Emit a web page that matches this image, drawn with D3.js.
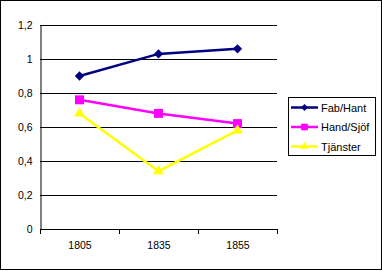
<!DOCTYPE html>
<html><head><meta charset="utf-8">
<script src="https://cdn.jsdelivr.net/npm/d3@7"></script>
<style>html,body{margin:0;padding:0;background:#fff;}svg{display:block;}</style>
</head><body>
<script>
const categories = ["1805", "1835", "1855"];
const seriesNames = ["Fab/Hant", "Hand/Sjöf", "Tjänster"];
const fabHant = [0.90, 1.03, 1.06];
const handSjof = [0.76, 0.68, 0.62];
const tjanster = [0.68, 0.34, 0.58];
const yTicks = [0, 0.2, 0.4, 0.6, 0.8, 1, 1.2];

const W = 382, H = 271;
const svg = d3.select("body").append("svg").attr("width", W).attr("height", H)
  .style("font-family", "'Liberation Sans', Arial, sans-serif");

svg.append("rect").attr("x", 0.5).attr("y", 0.5).attr("width", W - 1).attr("height", H - 2)
  .attr("fill", "#fff").attr("stroke", "#000");

const x = d3.scaleBand().domain(categories).range([40, 277]);
const y = d3.scaleLinear().domain([0, 1.2]).range([229, 25]);

// gridlines
svg.append("g").selectAll("line").data(yTicks.filter(d => d > 0)).join("line")
  .attr("x1", 40).attr("x2", 277)
  .attr("y1", d => Math.round(y(d)) + 0.5).attr("y2", d => Math.round(y(d)) + 0.5)
  .attr("stroke", "#000");

// y axis
const yAxis = svg.append("g").attr("transform", "translate(40.5,0.5)")
  .call(d3.axisLeft(y).tickValues(yTicks).tickSize(0).tickPadding(8)
    .tickFormat(d => String(d).replace(".", ",")));
yAxis.select(".domain").attr("stroke", "#000");
yAxis.selectAll("text").attr("font-size", 10.5).attr("fill", "#000")
  .attr("font-family", "'Liberation Sans', Arial, sans-serif");

// x axis
const xAxis = svg.append("g").attr("transform", "translate(0.5,229.5)")
  .call(d3.axisBottom(x).tickSize(0).tickPadding(12));
xAxis.select(".domain").attr("stroke", "#000").attr("d", "M40,0H277");
xAxis.selectAll("text").attr("font-size", 10.5).attr("fill", "#000")
  .attr("font-family", "'Liberation Sans', Arial, sans-serif");
const bounds = categories.map(c => x(c)).concat([x.range()[1]]);
svg.append("g").selectAll("line").data(bounds).join("line")
  .attr("x1", d => Math.round(d) + 0.5).attr("x2", d => Math.round(d) + 0.5)
  .attr("y1", 229).attr("y2", 234).attr("stroke", "#000");

const series = [
  { name: seriesNames[0], values: fabHant, color: "#000080", symbol: d3.symbolDiamond2, size: 55 },
  { name: seriesNames[1], values: handSjof, color: "#FF00FF", symbol: d3.symbolSquare, size: 81 },
  { name: seriesNames[2], values: tjanster, color: "#FFFF00", symbol: d3.symbolTriangle, size: 50 }
];

const cx = c => x(c) + x.bandwidth() / 2;
const line = d3.line().x((d, i) => cx(categories[i])).y(d => y(d));

series.forEach(s => {
  svg.append("path").datum(s.values).attr("d", line)
    .attr("fill", "none").attr("stroke", s.color).attr("stroke-width", 2.5);
  svg.append("g").selectAll("path").data(s.values).join("path")
    .attr("transform", (d, i) => `translate(${cx(categories[i])},${y(d)})`)
    .attr("d", d3.symbol().type(s.symbol).size(s.size))
    .attr("fill", s.color);
});

// legend
const lg = svg.append("g");
lg.append("rect").attr("x", 288.5).attr("y", 97.5).attr("width", 87).attr("height", 58)
  .attr("fill", "#fff").attr("stroke", "#000");
series.forEach((s, i) => {
  const yy = 107.5 + i * 19.5;
  lg.append("line").attr("x1", 291).attr("x2", 318).attr("y1", yy).attr("y2", yy)
    .attr("stroke", s.color).attr("stroke-width", 2.5);
  lg.append("path").attr("transform", `translate(304.5,${yy})`)
    .attr("d", d3.symbol().type(s.symbol).size(s.size * 0.55)).attr("fill", s.color);
  lg.append("text").attr("x", 321).attr("y", yy + 4).attr("font-size", 11)
    .attr("fill", "#000").text(s.name);
});
</script>
</body></html>
